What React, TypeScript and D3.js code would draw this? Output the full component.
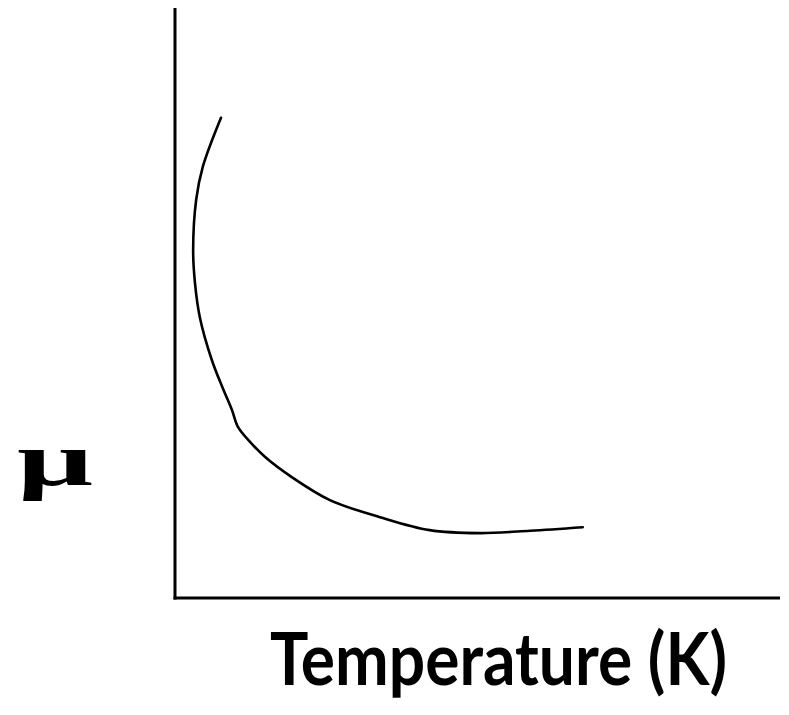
import React from "react";
import * as d3 from "d3";

// Schematic data: mobility (mu) vs temperature, arbitrary units
const temperature = [7.6, 4.6, 3.5, 3.0, 3.3, 4.1, 6.1, 7.8, 9.4, 10.4, 12.1, 14.9, 19.3, 25.6, 33.9, 42.1, 50.4, 58.7, 67.4];
const mobility = [81.4, 73.1, 67.5, 59.0, 53.4, 47.6, 40.3, 35.8, 31.9, 29.0, 26.8, 23.9, 20.5, 16.6, 13.7, 11.5, 11.0, 11.4, 12.0];
const xLabel = "Temperature (K)";
const yLabel = "μ";

const W = 789;
const H = 715;

export default function App() {
  const x = d3.scaleLinear().domain([0, 100]).range([175, 780]);
  const y = d3.scaleLinear().domain([0, 100]).range([598, 8]);
  const pts: [number, number][] = temperature.map((t, i) => [t, mobility[i]]);
  const line = d3
    .line<[number, number]>()
    .x((d) => x(d[0]))
    .y((d) => y(d[1]))
    .curve(d3.curveCatmullRom.alpha(0.5));

  return (
    <svg width={W} height={H} style={{ position: "absolute", left: 0, top: 0, background: "#fff" }}>
      <line x1={x(0)} y1={y(100)} x2={x(0)} y2={y(0) + 1.5} stroke="#000" strokeWidth={3} />
      <line x1={x(0) - 1.5} y1={y(0)} x2={x(100)} y2={y(0)} stroke="#000" strokeWidth={3} />
      <path d={line(pts) || ""} fill="none" stroke="#000" strokeWidth={2.6} strokeLinecap="round" />
      <text
        x={17}
        y={485}
        fontFamily="Liberation Serif, serif"
        fontWeight="bold"
        fontSize={76}
        textLength={76}
        lengthAdjust="spacingAndGlyphs"
      >
        {yLabel}
      </text>
      <text
        x={270}
        y={685}
        fontFamily="Lato, sans-serif"
        fontWeight="bold"
        fontSize={72}
        textLength={457}
        lengthAdjust="spacingAndGlyphs"
      >
        {xLabel}
      </text>
    </svg>
  );
}
